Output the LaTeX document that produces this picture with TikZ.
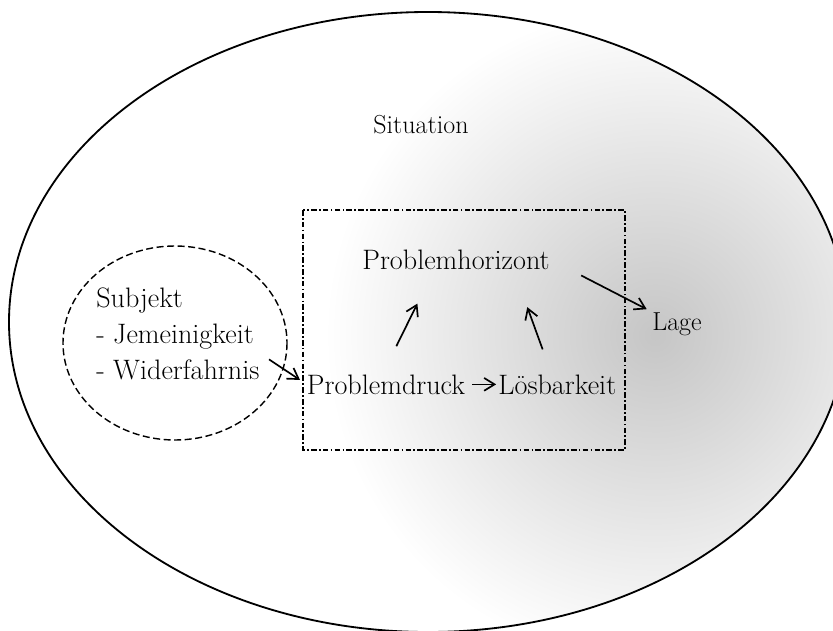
\documentclass[tikz,border=0pt]{standalone}
\usepackage{fontspec}
\usepackage{xcolor}
\usepackage{tikz}
\usetikzlibrary{arrows.meta, positioning, calc}

\begin{document}
\begin{tikzpicture}[
                x=0.025cm, y=-0.025cm,
                node distance=0.82cm,
                txt/.style={inner sep=0pt, font=\fontsize{20}{25.6}\selectfont},
                smalltxt/.style={inner sep=0pt, font=\fontsize{18.5}{22}\selectfont},
                arr/.style={line width=1.2pt, -{Straight Barb[length=2.6mm, width=3.2mm, line width=1.2pt]}},
                situation/.style={line width=1.3pt},
                subjektring/.style={line width=1pt, dash pattern=on 5pt off 2.5pt},
                problemrahmen/.style={line width=1pt, dash pattern=on 4pt off 1.6pt on 1.2pt off 1.6pt}
            ]
                \useasboundingbox (0,0) rectangle (833,630);

                % Situation with shading
                \begin{scope}
                    \clip (428,322) ellipse [x radius=419, y radius=310];
                    \shade[inner color=gray!45, outer color=white] (655,335) circle (330);
                \end{scope}
                \draw[situation] (428,322) ellipse [x radius=419, y radius=310];
                \node[smalltxt] (sit) at (421,125) {Situation};

                % Subject and problem frame
                \draw[subjektring] (175,343) ellipse [x radius=112, y radius=97];
                \draw[problemrahmen] (303,210) rectangle (625,450);

                % Nodes
                \node[txt, anchor=north west, align=left] (subj) at (96,288)
                    {Subjekt\\- Jemeinigkeit\\- Widerfahrnis};
                \node[txt, anchor=base] (horiz) at (456,269) {Problemhorizont};
                \node[txt, anchor=base] (druck) at (386,394) {Problemdruck};
                \node[txt, base right=of druck] (losb) {Lösbarkeit};
                \node[smalltxt, anchor=base] (lage) at (677,330) {Lage};

                % Edges
                \draw[arr, shorten <=0.28cm, shorten >=0.2cm] (subj.-13) -- (druck.west);
                \draw[arr, shorten <=0.17cm, shorten >=0.05cm] (druck.east) -- (losb.west);
                \draw[arr, shorten <=0.78cm, shorten >=0.95cm] (druck.109) -- (horiz.205);
                \draw[arr, shorten <=0.66cm, shorten >=1.0cm] (losb.119) -- (horiz.350);
                \draw[arr, shorten <=0.88cm, shorten >=0.15cm] (horiz.east) -- (lage.north west);
            \end{tikzpicture}
\end{document}
